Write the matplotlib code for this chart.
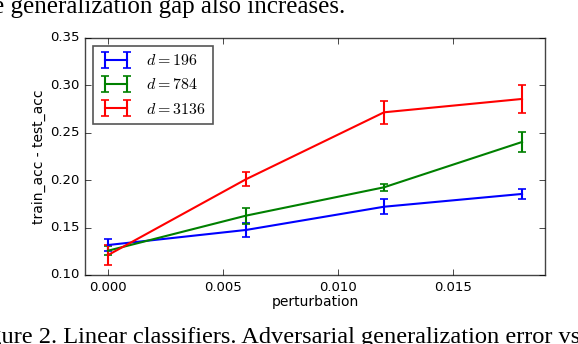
import matplotlib
matplotlib.use("Agg")
import matplotlib.pyplot as plt

plt.style.use("classic")

perturbation = [0.0, 0.006, 0.012, 0.018]
labels = [r"$d=196$", r"$d=784$", r"$d=3136$"]
colors = ["b", "g", "r"]
gap_196 = [0.1316, 0.1475, 0.172, 0.1855]
err_196 = [0.006, 0.007, 0.008, 0.005]
gap_784 = [0.1256, 0.1626, 0.1925, 0.2403]
err_784 = [0.005, 0.0085, 0.004, 0.0105]
gap_3136 = [0.121, 0.201, 0.2716, 0.2857]
err_3136 = [0.0105, 0.0075, 0.012, 0.015]

xticks = [0.000, 0.005, 0.010, 0.015]
yticks = [0.10, 0.15, 0.20, 0.25, 0.30, 0.35]

fig = plt.figure(figsize=(5.78, 3.44), dpi=100, facecolor="white")
ax = fig.add_axes([0.147, 0.2006, 0.796, 0.689])

for y, e, c, lab in zip([gap_196, gap_784, gap_3136],
                        [err_196, err_784, err_3136], colors, labels):
    ax.errorbar(perturbation, y, yerr=e, color=c, lw=1.5, capsize=3,
                elinewidth=1.5, capthick=1.2, label=lab)

ax.set_xlim(-0.001, 0.019)
ax.set_ylim(0.10, 0.35)
ax.set_xticks(xticks)
ax.set_yticks(yticks)
ax.set_xticklabels([f"{t:.3f}" for t in xticks])
ax.set_yticklabels([f"{t:.2f}" for t in yticks])
ax.tick_params(labelsize=9.5)
ax.set_xlabel("perturbation", fontsize=10, labelpad=1)
ax.set_ylabel("train_acc - test_acc", fontsize=10, labelpad=3)
for s in ax.spines.values():
    s.set_color("#444444")

leg = ax.legend(loc="upper left", fontsize=11.5, handlelength=2.0,
                borderpad=0.45, labelspacing=0.58, handletextpad=0.9,
                borderaxespad=0.5)
leg.get_frame().set_edgecolor("#555555")
leg.get_frame().set_linewidth(1.2)

fig.text(0.598, 1 - 13 / 344, "e generalization gap also increases.",
         family="Liberation Serif", fontsize=18, va="baseline", ha="right")
fig.text(1.004, 1 / 344, "Figure 2. Linear classifiers. Adversarial generalization error vs",
         family="Liberation Serif", fontsize=17.6, va="baseline", ha="right")

fig.savefig("out.png", dpi=100, facecolor="white")
